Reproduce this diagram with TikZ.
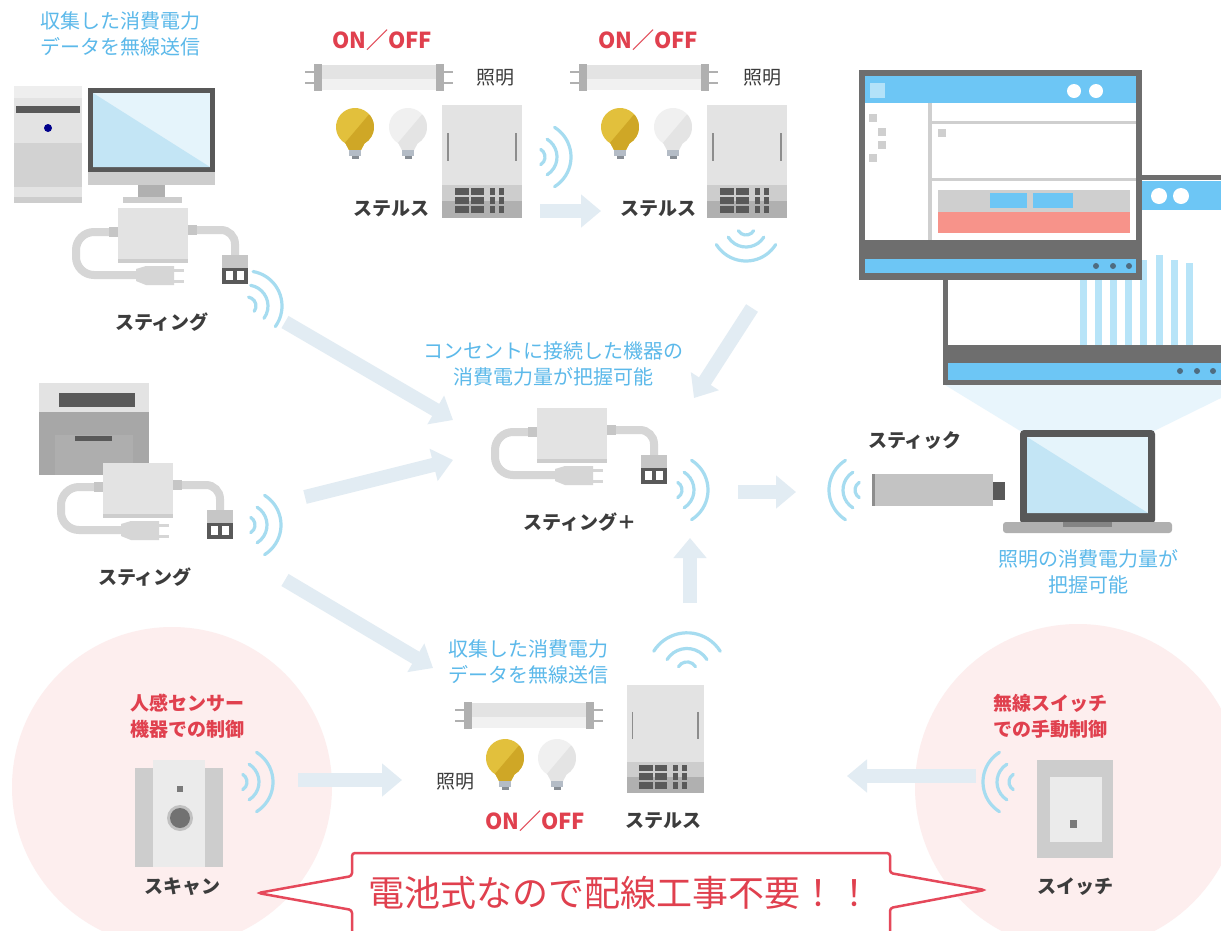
\documentclass[tikz,border=0pt]{standalone}
\usepackage{fontspec}
\newfontfamily\jp{Noto Sans CJK JP}
\usetikzlibrary{arrows.meta}

\definecolor{txtdark}{HTML}{3C3C3C}
\definecolor{txtblue}{HTML}{5CB9EA}
\definecolor{txtred}{HTML}{E0404E}
\definecolor{wavec}{HTML}{A6DCF0}
\definecolor{arrowc}{HTML}{E2ECF3}
\definecolor{pinkbg}{HTML}{FDEEEE}
\definecolor{devlight}{HTML}{E3E3E3}
\definecolor{devmid}{HTML}{CDCDCD}
\definecolor{devgray}{HTML}{B0B0B0}
\definecolor{devdark}{HTML}{595959}
\definecolor{cordc}{HTML}{D6D6D6}
\definecolor{cordm}{HTML}{C6C6C6}
\definecolor{framec}{HTML}{6E6E6E}
\definecolor{uiblue}{HTML}{6DC6F5}
\definecolor{uipale}{HTML}{B3E2F9}
\definecolor{uigray}{HTML}{CFCFCF}
\definecolor{uidot}{HTML}{4F6C80}
\definecolor{barblue}{HTML}{B7E4F8}
\definecolor{salmon}{HTML}{F7938A}
\definecolor{scrdark}{HTML}{C3E5F5}
\definecolor{scrlight}{HTML}{E5F4FB}
\definecolor{bulbY}{HTML}{E2C03C}
\definecolor{bulbYd}{HTML}{CFA726}
\definecolor{bulbW}{HTML}{F0F0F0}
\definecolor{bulbWd}{HTML}{E4E4E4}
\definecolor{bulbbase}{HTML}{B4BCC6}
\definecolor{projc}{HTML}{E8F5FC}
\definecolor{calloutred}{HTML}{E5485A}

% glass bulb: #1 main tone, #2 shaded tone
\newcommand\lampglass[2]{%
  \path[fill=#1] (120:19) arc[start angle=120,end angle=420,radius=19] -- (6,23) -- (-6,23) -- cycle;
  \begin{scope}
    \clip (120:19) arc[start angle=120,end angle=420,radius=19] -- (6,23) -- (-6,23) -- cycle;
    \fill[#2] (22,-22) -- (-22,30) -- (30,30) -- cycle;
  \end{scope}
  \fill[bulbbase] (-6,23) rectangle (6,29);
  \fill[bulbbase!75!black] (-3.5,29) rectangle (3.5,32);
}

\tikzset{
  label/.style={font=\jp\bfseries\fontsize{19}{22}\selectfont, text=txtdark, inner sep=0pt},
  note/.style={font=\jp\fontsize{20}{26}\selectfont, text=txtblue, align=center, inner sep=0pt},
  redlabel/.style={font=\jp\bfseries\fontsize{19}{26}\selectfont, text=txtred, align=center, inner sep=0pt},
  onoff/.style={font=\jp\bfseries\fontsize{22}{24}\selectfont, text=txtred, inner sep=0pt},
  flow/.style={draw=arrowc, line width=14pt, -{Triangle[width=32pt,length=20pt]}},
  waves/.pic={
    \foreach \r in {9,21,35}{
      \draw[wavec, line width=3.2pt, line cap=round] (-58:\r) arc[start angle=-58,end angle=58,radius=\r];
    }
  },
  bulbon/.pic={\lampglass{bulbY}{bulbYd}},
  bulboff/.pic={\lampglass{bulbW}{bulbWd}},
  tube/.pic={
    \draw[devgray, line width=2.5pt] (0,7) -- (9,7) (0,18) -- (9,18) (139,7) -- (148,7) (139,18) -- (148,18);
    \fill[devlight] (9,0) rectangle (139,14);
    \fill[white!50!devlight] (9,14) rectangle (139,25);
    \fill[devgray] (9,-1) rectangle (17,26);
    \fill[devgray] (131,-1) rectangle (139,26);
  },
  stealthunit/.pic={
    \fill[devlight] (0,0) rectangle (80,113);
    \fill[devmid] (0,80) rectangle (80,113);
    \fill[devgray] (0,96) rectangle (80,113);
    \draw[devgray!80!black, line width=1.2pt] (6,28) -- (6,56) (74,28) -- (74,56);
    \foreach \yy in {83,92,101}{
      \fill[devdark] (13,\yy) rectangle (27,\yy+7);
      \fill[devdark] (29,\yy) rectangle (42,\yy+7);
      \fill[devdark] (48,\yy) rectangle (53,\yy+7);
      \fill[devdark] (57,\yy) rectangle (62,\yy+7);
    }
  },
  sting/.pic={
    \draw[cordc, line width=8pt, rounded corners=18pt] (0,24) -- (-42,24) -- (-42,67) -- (25,67);
    \draw[cordc, line width=8pt, rounded corners=14pt] (70,22) -- (117,22) -- (117,50);
    \fill[cordm] (-9,19) rectangle (0,29);
    \fill[cordm] (70,17) rectangle (79,27);
    \fill[devlight] (0,0) rectangle (70,55);
    \fill[devmid] (0,51) rectangle (70,55);
    \fill[cordc] (18,61) -- (28,58) -- (56,58) -- (56,77) -- (28,77) -- (18,73) -- cycle;
    \draw[cordc, line width=3pt] (56,62) -- (66,62) (56,73) -- (66,73);
    \fill[cordm] (104,47) rectangle (130,60);
    \fill[devdark] (104,60) rectangle (130,76);
    \fill[white] (108,63) rectangle (115,72);
    \fill[white] (119,63) rectangle (126,72);
  }
}

\begin{document}
\begin{tikzpicture}[x=1pt,y=-1pt]
\useasboundingbox (0,0) rectangle (1221,930);
\clip (0,0) rectangle (1221,930);
\fill[white] (0,0) rectangle (1221,930);

% control areas
\fill[pinkbg] (172,787) circle[radius=160];
\fill[pinkbg] (1078,787) circle[radius=163];

% light cast from the laptop to the dashboard
\fill[projc] (945,385) -- (1221,385) -- (1221,398) -- (1152,432) -- (1022,432) -- cycle;

% data flow arrows
\coordinate (a1s) at (285,322); \coordinate (a1e) at (453,420);
\coordinate (a2s) at (305,497); \coordinate (a2e) at (453,460);
\coordinate (a3s) at (285,580); \coordinate (a3e) at (433,668);
\coordinate (a4s) at (752,308); \coordinate (a4e) at (694,398);
\coordinate (a5s) at (540,211); \coordinate (a5e) at (601,211);
\coordinate (a6s) at (738,492); \coordinate (a6e) at (796,492);
\coordinate (a7s) at (690,603); \coordinate (a7e) at (690,538);
\coordinate (a8s) at (298,780); \coordinate (a8e) at (402,780);
\coordinate (a9s) at (976,776); \coordinate (a9e) at (847,776);
\foreach \k in {1,...,9}{ \draw[flow] (a\k s) -- (a\k e); }

% desktop PC
\fill[devlight] (14,86) rectangle (82,203);
\fill[white!40!devlight] (14,86) rectangle (82,98);
\fill[devdark] (16,106) rectangle (80,113);
\fill[blue!55!black] (48,128) circle[radius=4];
\fill[devmid!90!white] (14,143) rectangle (82,187);
\fill[devmid] (14,197) rectangle (82,203);
\fill[framec!80!black] (88,88) rectangle (215,172);
\fill[scrlight] (93,93) rectangle (210,167);
\fill[scrdark] (93,93) -- (210,167) -- (93,167) -- cycle;
\fill[devmid] (88,172) rectangle (215,185);
\fill[devgray] (138,185) rectangle (165,197);
\fill[devmid] (123,197) rectangle (182,203);
\pic at (118,208) {sting};

% printer
\fill[devlight] (39,383) rectangle (149,412);
\fill[devdark] (59,393) rectangle (135,407);
\fill[devgray!95!black] (39,412) rectangle (149,475);
\fill[devmid!85!black] (55,435) rectangle (133,475);
\fill[devdark] (75,436) rectangle (112,441);
\pic at (103,463) {sting};

% central plug
\pic at (537,408) {sting};

% ceiling lights with their controllers
\pic at (305,65) {tube};
\pic at (570,65) {tube};
\pic at (355,127) {bulbon};
\pic at (408,127) {bulboff};
\pic at (620,127) {bulbon};
\pic at (673,127) {bulboff};
\pic at (442,105) {stealthunit};
\pic at (707,105) {stealthunit};

% lower light group
\pic at (455,703) {tube};
\pic at (505,758) {bulbon};
\pic at (557,758) {bulboff};
\pic[scale=0.96] at (627,685) {stealthunit};

% dashboard window behind
\fill[framec] (943,175) rectangle (1230,385);
\fill[white] (948,180) rectangle (1230,345);
\fill[uiblue] (948,181) rectangle (1230,210);
\fill[white] (1159,196) circle[radius=8];
\fill[white] (1181,196) circle[radius=8];
\foreach \bx/\top in {1080/265,1095/265,1110/265,1125/265,1140/260,1156/255,1171/260,1186/263}{
  \fill[barblue] (\bx,\top) rectangle (\bx+7,345);
}
\fill[uiblue] (948,363) rectangle (1230,380);
\foreach \dx in {1180,1197,1213}{ \fill[uidot] (\dx,371) circle[radius=3]; }

% dashboard window in front
\fill[framec] (859,70) rectangle (1142,280);
\fill[white] (865,76) rectangle (1136,240);
\fill[uiblue] (865,76) rectangle (1136,103);
\fill[uipale] (870,83) rectangle (885,98);
\fill[white] (1074,91) circle[radius=7];
\fill[white] (1096,91) circle[radius=7];
\fill[uigray] (928,103) rectangle (932,240);
\fill[uigray] (932,121) rectangle (1136,124);
\fill[uigray] (932,178) rectangle (1136,181);
\foreach \sx/\sy in {869/114,878/128,878/141,869/154,938/129}{
  \fill[uigray] (\sx,\sy) rectangle (\sx+8,\sy+8);
}
\fill[uigray] (938,190) rectangle (1130,212);
\fill[uiblue] (990,193) rectangle (1027,208);
\fill[uiblue] (1033,193) rectangle (1073,208);
\fill[salmon] (938,212) rectangle (1130,233);
\fill[uiblue] (865,259) rectangle (1136,273);
\foreach \dx in {1096,1113,1129}{ \fill[uidot] (\dx,266) circle[radius=3]; }

% laptop and USB stick
\fill[framec!80!black, rounded corners=4pt] (1020,430) rectangle (1155,524);
\fill[scrlight] (1027,437) rectangle (1148,513);
\fill[scrdark] (1027,437) -- (1148,513) -- (1027,513) -- cycle;
\fill[devgray, rounded corners=3pt] (1003,522) rectangle (1172,533);
\fill[devgray!75!black] (1063,522) rectangle (1112,527);
\fill[devmid!95!black] (872,474) rectangle (993,506);
\fill[devgray!80!black] (872,474) rectangle (875,506);
\fill[devdark] (993,482) rectangle (1005,500);

% motion sensor
\fill[white!30!devlight] (153,760) rectangle (205,867);
\fill[devmid] (135,768) rectangle (153,867);
\fill[devmid] (205,768) rectangle (223,867);
\fill[devdark!80!white] (177,786) rectangle (183,792);
\fill[devlight!85!black] (180,818) circle[radius=13];
\fill[devdark!85!white] (180,818) circle[radius=10];

% wall switch
\fill[devmid] (1037,760) rectangle (1113,858);
\fill[white!30!devlight] (1050,777) rectangle (1102,842);
\fill[devdark!80!white] (1070,820) rectangle (1077,828);

% radio waves
\pic[rotate=22] at (247,306) {waves};
\pic at (246,525) {waves};
\pic at (673,490) {waves};
\pic[rotate=180] at (864,490) {waves};
\pic at (536,157) {waves};
\pic[rotate=-90] at (746,226) {waves};
\pic[rotate=90, scale=1.12] at (687,672) {waves};
\pic at (238,782) {waves};
\pic[rotate=180] at (1018,782) {waves};

% captions
\node[note] (tlnote) at (120,34) {収集した消費電力\\データを無線送信};
\node[label] (pcsting) at (162,322) {スティング};
\node[onoff] (onoff1) at (382,40) {ON／OFF};
\node[onoff] (onoff2) at (648,40) {ON／OFF};
\node[label, font=\jp\fontsize{19}{22}\selectfont] (light1) at (495,78) {照明};
\node[label, font=\jp\fontsize{19}{22}\selectfont] (light2) at (762,78) {照明};
\node[label] (stl1) at (391,209) {ステルス};
\node[label] (stl2) at (658,209) {ステルス};
\node[note] (cnote) at (553,364) {コンセントに接続した機器の\\消費電力量が把握可能};
\node[label] (stplus) at (580,522) {スティング＋};
\node[label] (prsting) at (145,577) {スティング};
\node[label] (stick) at (915,440) {スティック};
\node[note] (rnote) at (1088,572) {照明の消費電力量が\\把握可能};
\node[note] (bnote) at (528,662) {収集した消費電力\\データを無線送信};
\node[label, font=\jp\fontsize{19}{22}\selectfont] (light3) at (455,782) {照明};
\node[onoff] (onoff3) at (535,821) {ON／OFF};
\node[label] (stl3) at (663,821) {ステルス};
\node[redlabel] (sensnote) at (187,716) {人感センサー\\機器での制御};
\node[label] (scan) at (182,887) {スキャン};
\node[redlabel] (swnote) at (1050,716) {無線スイッチ\\での手動制御};
\node[label] (switch) at (1075,887) {スイッチ};

% banner
\draw[calloutred, line width=2.5pt, fill=white, rounded corners=3pt]
  (352,945) -- (352,910) -- (258,893) -- (352,876) -- (352,853) -- (890,853)
  -- (890,873) -- (985,890) -- (890,908) -- (890,945);
\node[font=\jp\fontsize{36}{40}\selectfont, text=txtred, inner sep=0pt] (banner) at (620,893) {電池式なので配線工事不要！！};
\end{tikzpicture}
\end{document}
